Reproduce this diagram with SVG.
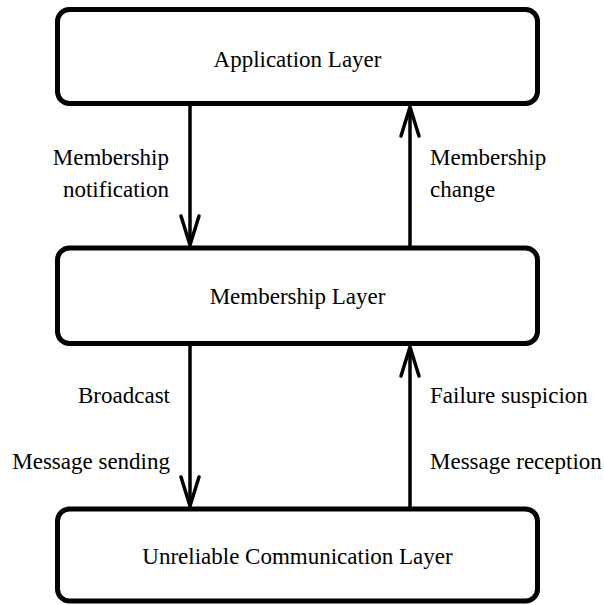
<svg xmlns="http://www.w3.org/2000/svg" width="604" height="605" viewBox="0 0 604 605">
<defs>
<style>
.box{fill:#fff;stroke:#000;stroke-width:5}
.lbl{font-family:"Liberation Serif","Times New Roman",serif;font-size:23px;fill:#000}
.mid{text-anchor:middle}
.end{text-anchor:end}
.edge{stroke:#000;stroke-width:3.5;fill:none}
</style>
<marker id="arr" markerUnits="userSpaceOnUse" viewBox="-2 -2 34 24" refX="30" refY="10" markerWidth="34" markerHeight="24" orient="auto" overflow="visible">
<path d="M1,1 L30,10 L1,19" fill="none" stroke="#000" stroke-width="3.5" stroke-linecap="round" stroke-linejoin="miter"/>
</marker>
</defs>
<rect width="604" height="605" fill="#fff"/>
<g id="connectors">
<line class="edge" x1="190" y1="106" x2="190" y2="245" marker-end="url(#arr)"/>
<line class="edge" x1="410" y1="246" x2="410" y2="107" marker-end="url(#arr)"/>
<line class="edge" x1="190" y1="346" x2="190" y2="506" marker-end="url(#arr)"/>
<line class="edge" x1="410" y1="507" x2="410" y2="347" marker-end="url(#arr)"/>
<text class="lbl end" x="169" y="164.5">Membership</text>
<text class="lbl end" x="169" y="196.5">notification</text>
<text class="lbl" x="430" y="164.5">Membership</text>
<text class="lbl" x="430" y="196.5">change</text>
<text class="lbl end" x="170" y="403">Broadcast</text>
<text class="lbl end" x="170" y="469">Message sending</text>
<text class="lbl" x="430" y="403">Failure suspicion</text>
<text class="lbl" x="430" y="469">Message reception</text>
</g>
<g id="application-layer">
<rect class="box" x="57.5" y="9.5" width="480" height="94" rx="12"/>
<text class="lbl mid" x="297.5" y="66.5">Application Layer</text>
</g>
<g id="membership-layer">
<rect class="box" x="57.5" y="248" width="480" height="95.5" rx="12"/>
<text class="lbl mid" x="297.5" y="304">Membership Layer</text>
</g>
<g id="unreliable-communication-layer">
<rect class="box" x="57.5" y="509" width="480" height="92" rx="12"/>
<text class="lbl mid" x="297.5" y="564">Unreliable Communication Layer</text>
</g>
</svg>
